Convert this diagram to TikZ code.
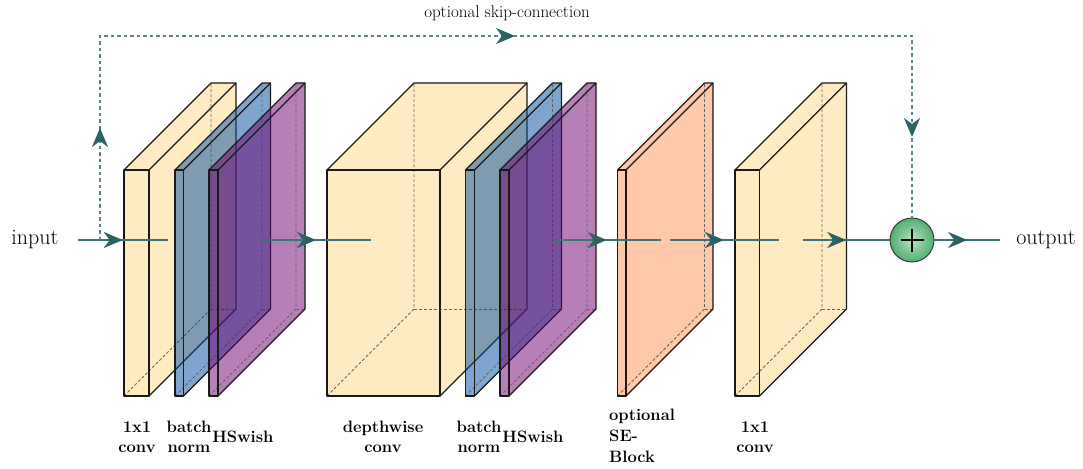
\documentclass[tikz,border=0pt]{standalone}
\usetikzlibrary{arrows.meta,decorations.markings,shadings}
\definecolor{edgecol}{rgb}{0.24,0.45,0.45}
\definecolor{arrowcol}{rgb}{0.16,0.39,0.39}
\definecolor{convc}{rgb}{1,0.8,0.4}
\definecolor{bnc}{rgb}{0,0.3,0.62}
\definecolor{hsc}{rgb}{0.43,0,0.43}
\definecolor{sec}{rgb}{1,0.57,0.33}
\definecolor{suminner}{rgb}{0.70,0.91,0.74}
\definecolor{sumouter}{rgb}{0.33,0.67,0.45}
\tikzset{
  edgeline/.style={draw=black!90, line width=1.1pt, line join=round},
  hiddenline/.style={draw=black!60, line width=0.8pt, dash pattern=on 3pt off 2pt},
  convfill/.style={fill=convc, fill opacity=0.4},
  bnfill/.style={fill=bnc, fill opacity=0.5},
  hsfill/.style={fill=hsc, fill opacity=0.5},
  sefill/.style={fill=sec, fill opacity=0.5},
  conn/.style={draw=edgecol, line width=2.6pt,
    postaction={decorate},
    decoration={markings, mark=at position 0.5 with {\arrow[arrowcol]{Stealth[length=19pt,width=16pt,inset=6pt]}}}},
  skipline/.style={draw=edgecol!85, line width=2.3pt, dash pattern=on 3.5pt off 3pt},
  lab/.style={font=\fontsize{16.5}{20}\selectfont\bfseries, inner sep=0pt, align=center},
  iotext/.style={font=\fontsize{22}{26}\selectfont, inner sep=0pt},
}
\newcommand{\mycuboid}[4]{%
  \path[#3] (#1,170) -- (#2,170) -- (#2,396) -- (#1,396) -- cycle;
  \path[#3] (#1,170) -- ({#1+87},83) -- ({#2+87},83) -- (#2,170) -- cycle;
  \path[#3] (#2,170) -- ({#2+87},83) -- ({#2+87},309) -- (#2,396) -- cycle;
  \draw[hiddenline] (#1,396) -- ({#1+87},309) -- ({#1+87},83);
  \draw[hiddenline] ({#1+87},309) -- ({#2+87},309);
  \draw[edgeline] (#1,170) rectangle (#2,396);
  \draw[edgeline] (#1,170) -- ({#1+87},83) -- ({#2+87},83) -- ({#2+87},309) -- (#2,396);
  \draw[edgeline] (#2,170) -- ({#2+87},83);
  \coordinate (#4-west) at ({#1+43.5},240);
  \coordinate (#4-east) at ({#2+43.5},240);
}
\begin{document}
\begin{tikzpicture}[x=1pt,y=-1pt]
\useasboundingbox (0,0) rectangle (1083,468);

% layers
\mycuboid{124}{149}{convfill}{convA}
\mycuboid{175}{183.5}{bnfill}{bnA}
\mycuboid{209}{218}{hsfill}{hsA}
\mycuboid{327}{440}{convfill}{dw}
\mycuboid{465.5}{474.5}{bnfill}{bnB}
\mycuboid{500}{509}{hsfill}{hsB}
\mycuboid{617.5}{626}{sefill}{se}
\mycuboid{735}{759.5}{convfill}{convB}

% sum node
\node[circle, minimum size=44pt, inner sep=0pt, draw=black!80, line width=0.9pt,
      shading=radial, inner color=suminner, outer color=sumouter] (sum) at (912,240) {};
\draw[line width=1.1pt, black] ([xshift=-11.5pt]sum.center) -- ([xshift=11.5pt]sum.center);
\draw[line width=1.1pt, black] ([yshift=-11.5pt]sum.center) -- ([yshift=11.5pt]sum.center);

% input / output
\node[iotext] (input) at (35,240) {input};
\node[iotext] (output) at (1046,240) {output};
\coordinate (inend) at (78,240);
\coordinate (outend) at (1000,240);
\coordinate (skipA) at (100,240);
\coordinate (skipB) at (100,36);
\coordinate (skipC) at (912,36);

% connections
\draw[conn] (inend) -- (convA-west);
\draw[conn] (hsA-east) -- (dw-west);
\draw[conn] (hsB-east) -- (se-west);
\draw[conn] (se-east) -- (convB-west);
\draw[conn] (convB-east) -- (sum.west);
\draw[conn] (sum.east) -- (outend);

% skip connection
\draw[skipline, postaction={decorate},
  decoration={markings,
    mark=at position 112pt with {\arrow[arrowcol,solid]{Stealth[length=19pt,width=16pt,inset=6pt]}},
    mark=at position 619pt with {\arrow[arrowcol,solid]{Stealth[length=19pt,width=16pt,inset=6pt]}},
    mark=at position 1117pt with {\arrow[arrowcol,solid]{Stealth[length=19pt,width=16pt,inset=6pt]}}}]
  (skipA) -- (skipB) -- (skipC) -- (sum.north);
\node[font=\fontsize{17}{20}\selectfont, inner sep=0pt] (skiplab) at (507,13) {optional skip-connection};

% labels
\node[lab] (l1) at (137,437) {1x1\\conv};
\node[lab] (l2) at (189,437) {batch\\norm};
\node[lab] (l3) at (243,437) {HSwish};
\node[lab] (l4) at (383,437) {depthwise\\conv};
\node[lab] (l5) at (479,437) {batch\\norm};
\node[lab] (l6) at (533,437) {HSwish};
\node[lab, anchor=west, align=left, font=\fontsize{16.5}{21}\selectfont\bfseries] (l7) at (609,436) {optional\\SE-\\Block};
\node[lab] (l8) at (755,437) {1x1\\conv};
\end{tikzpicture}
\end{document}
